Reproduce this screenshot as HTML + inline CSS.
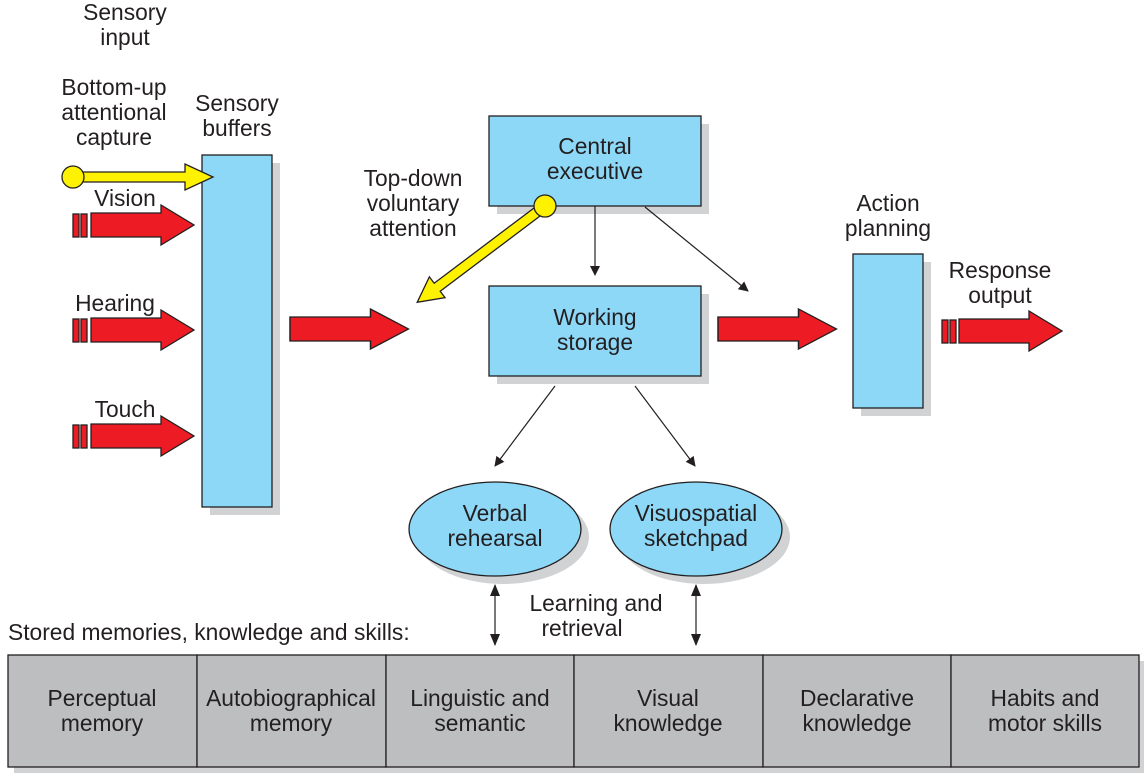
<!DOCTYPE html>
<html><head><style>
body{margin:0;background:#fff;width:1144px;height:773px;overflow:hidden;font-family:"Liberation Sans",sans-serif;}
</style></head><body>
<svg width="1144" height="773" viewBox="0 0 1144 773" font-family="Liberation Sans, sans-serif" font-size="22.8" fill="#231f20">
<defs>
<marker id="ah" markerWidth="10" markerHeight="10" refX="9" refY="5" orient="auto" markerUnits="userSpaceOnUse"><path d="M0,0 L10,5 L0,10 z" fill="#231f20"/></marker>
<marker id="ahs" markerWidth="12" markerHeight="12" refX="11" refY="6" orient="auto-start-reverse" markerUnits="userSpaceOnUse"><path d="M0,1 L12,6 L0,11 z" fill="#231f20"/></marker>
<g id="red"><path d="M0,-12 L70,-12 L70,-20 L103,0 L70,20 L70,12 L0,12 z" fill="#ed1c24" stroke="#231f20" stroke-width="1.3"/></g>
</defs>
<g fill="#d1d2d4">
<rect x="210" y="163" width="70" height="352"/>
<rect x="497" y="124" width="212" height="90"/>
<rect x="497" y="294" width="212" height="90"/>
<rect x="861" y="262" width="70" height="154"/>
<ellipse cx="503" cy="537" rx="86" ry="47"/>
<ellipse cx="704" cy="537" rx="86" ry="47"/>
<rect x="14" y="661" width="1130" height="112"/>
</g>
<g fill="#8dd7f7" stroke="#231f20" stroke-width="1.3">
<rect x="202" y="155" width="70" height="352"/>
<rect x="489" y="116" width="212" height="90"/>
<rect x="489" y="286" width="212" height="90"/>
<rect x="853" y="254" width="70" height="154"/>
<ellipse cx="495" cy="529" rx="86" ry="47"/>
<ellipse cx="696" cy="529" rx="86" ry="47"/>
</g>
<g fill="#bcbec0" stroke="#231f20" stroke-width="1.3">
<rect x="8" y="655" width="189" height="112"/><rect x="197" y="655" width="189" height="112"/><rect x="386" y="655" width="188" height="112"/><rect x="574" y="655" width="189" height="112"/><rect x="763" y="655" width="188" height="112"/><rect x="951" y="655" width="188" height="112"/>
</g>
<g fill="#ed1c24" stroke="#231f20" stroke-width="1.3">
<rect x="73" y="214" width="6" height="23"/><rect x="81" y="214" width="6" height="23"/>
<rect x="73" y="319" width="6" height="23"/><rect x="81" y="319" width="6" height="23"/>
<rect x="73" y="425" width="6" height="23"/><rect x="81" y="425" width="6" height="23"/>
<rect x="942" y="320" width="6" height="23"/><rect x="950" y="320" width="6" height="23"/>
</g>
<use href="#red" transform="translate(91,225)"/>
<use href="#red" transform="translate(91,330)"/>
<use href="#red" transform="translate(91,436)"/>
<use href="#red" transform="translate(290,329) scale(1.15,1)"/>
<use href="#red" transform="translate(718,329) scale(1.15,1)"/>
<use href="#red" transform="translate(959,331)"/>
<path d="M80,172 L185,172 L185,164 L213,177 L185,190 L185,182 L80,182 z" fill="#fff200" stroke="#231f20" stroke-width="1.3"/>
<circle cx="73" cy="177" r="11" fill="#fff200" stroke="#231f20" stroke-width="1.3"/>
<g transform="translate(545,206) rotate(143)">
<path d="M0,-5 L135,-5 L135,-13 L160,0 L135,13 L135,5 L0,5 z" fill="#fff200" stroke="#231f20" stroke-width="1.3"/>
</g>
<circle cx="545" cy="206" r="11" fill="#fff200" stroke="#231f20" stroke-width="1.3"/>
<g stroke="#231f20" stroke-width="1.2">
<line x1="595" y1="206" x2="595" y2="275" marker-end="url(#ah)"/>
<line x1="645" y1="207" x2="748" y2="291" marker-end="url(#ah)"/>
<line x1="555" y1="386" x2="495" y2="466" marker-end="url(#ah)"/>
<line x1="635" y1="386" x2="695" y2="466" marker-end="url(#ah)"/>
<line x1="495" y1="585" x2="495" y2="645" marker-start="url(#ahs)" marker-end="url(#ahs)"/>
<line x1="696" y1="585" x2="696" y2="645" marker-start="url(#ahs)" marker-end="url(#ahs)"/>
</g>
<g text-anchor="middle">
<text x="125" y="20">Sensory</text><text x="125" y="45">input</text>
<text x="114" y="95">Bottom-up</text><text x="114" y="120">attentional</text><text x="114" y="145">capture</text>
<text x="125" y="206">Vision</text><text x="115" y="311">Hearing</text><text x="125" y="417">Touch</text>
<text x="237" y="111">Sensory</text><text x="237" y="136">buffers</text>
<text x="413" y="186">Top-down</text><text x="413" y="211">voluntary</text><text x="413" y="236">attention</text>
<text x="595" y="154">Central</text><text x="595" y="179">executive</text>
<text x="595" y="325">Working</text><text x="595" y="350">storage</text>
<text x="888" y="211">Action</text><text x="888" y="236">planning</text>
<text x="1000" y="278">Response</text><text x="1000" y="303">output</text>
<text x="495" y="521">Verbal</text><text x="495" y="546">rehearsal</text>
<text x="696" y="521">Visuospatial</text><text x="696" y="546">sketchpad</text>
<text x="596" y="611">Learning and</text><text x="582" y="636">retrieval</text>
<text x="102" y="706">Perceptual</text><text x="102" y="731">memory</text>
<text x="291" y="706">Autobiographical</text><text x="291" y="731">memory</text>
<text x="480" y="706">Linguistic and</text><text x="480" y="731">semantic</text>
<text x="668" y="706">Visual</text><text x="668" y="731">knowledge</text>
<text x="857" y="706">Declarative</text><text x="857" y="731">knowledge</text>
<text x="1045" y="706">Habits and</text><text x="1045" y="731">motor skills</text>
</g>
<text x="8" y="640">Stored memories, knowledge and skills:</text>
</svg>
</body></html>
